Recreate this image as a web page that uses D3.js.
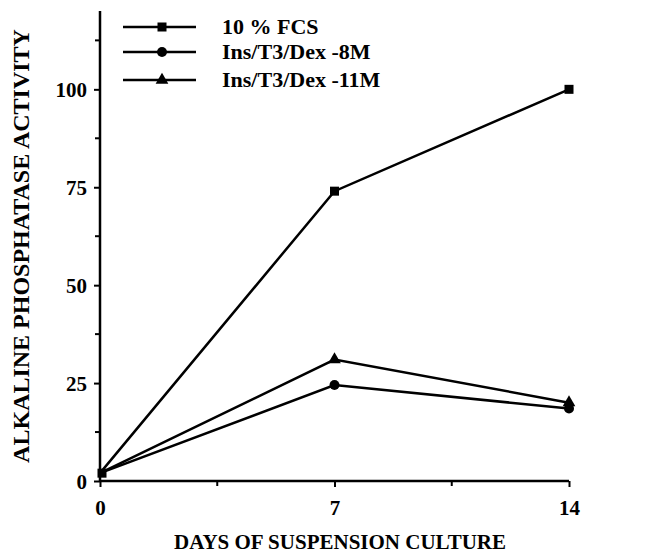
<!DOCTYPE html>
<html><head><meta charset="utf-8">
<script src="https://cdn.jsdelivr.net/npm/d3@7"></script>
<style>body{margin:0;background:#fff}svg{display:block}text{font-family:"Liberation Serif","Times New Roman",serif;font-weight:bold;fill:#000}</style>
</head><body><svg id="c" width="649" height="554"></svg>
<script>
const days = [0, 7, 14];
const fcs = [2, 74, 100];
const ins8 = [2, 24.5, 18.5];
const ins11 = [2, 31, 20];
const seriesNames = ["10 % FCS", "Ins/T3/Dex -8M", "Ins/T3/Dex -11M"];
const seriesShapes = ["square", "circle", "triangle"];
const yTicks = [0, 25, 50, 75, 100];
const yMinor = [12.5, 37.5, 62.5, 87.5, 112.5];
const xTicks = [0, 7, 14];
const xMinor = [3.5, 10.5];

const svg = d3.select("#c");
const x = d3.scaleLinear().domain([0, 14]).range([100, 569]);
const y = d3.scaleLinear().domain([0, 120]).range([481, 11]);

const g = svg.append("g");
g.append("line").attr("x1", x(0)).attr("x2", x(0)).attr("y1", y(120)).attr("y2", y(0)).attr("stroke","#000").attr("stroke-width",2.5);
g.append("line").attr("x1", x(0)).attr("x2", x(14)).attr("y1", y(0)).attr("y2", y(0)).attr("stroke","#000").attr("stroke-width",2.5);

const yAxis = d3.axisLeft(y).tickValues(yTicks).tickSize(6).tickFormat(d3.format("d"));
const ya = g.append("g").attr("transform", `translate(${x(0)},0)`).call(yAxis);
ya.select(".domain").remove();
ya.selectAll("line").attr("stroke-width", 2);
ya.selectAll("text").attr("font-size", 21).attr("dx", -4).attr("dy", "0.35em");
g.selectAll(".ymin").data(yMinor).enter().append("line").attr("x1", x(0)-5).attr("x2", x(0)).attr("y1", d=>y(d)).attr("y2", d=>y(d)).attr("stroke","#000").attr("stroke-width",2);

const xAxis = d3.axisBottom(x).tickValues(xTicks).tickSize(6).tickFormat(d3.format("d"));
const xa = g.append("g").attr("transform", `translate(0,${y(0)})`).call(xAxis);
xa.select(".domain").remove();
xa.selectAll("line").attr("stroke-width", 2);
xa.selectAll("text").attr("font-size", 21).attr("y", 34).attr("dy", 0);
g.selectAll(".xmin").data(xMinor).enter().append("line").attr("x1", d=>x(d)).attr("x2", d=>x(d)).attr("y1", y(0)).attr("y2", y(0)+5).attr("stroke","#000").attr("stroke-width",2);

svg.append("text").attr("transform", "translate(29,246) rotate(-90)").attr("text-anchor","middle").attr("font-size", 24).text("ALKALINE PHOSPHATASE ACTIVITY");
svg.append("text").attr("x", 340).attr("y", 549).attr("text-anchor","middle").attr("font-size", 21).text("DAYS OF SUSPENSION CULTURE");

const allSeries = [fcs, ins8, ins11];
const line = d3.line().x((d,i)=>x(days[i])).y(d=>y(d));
function marker(sel, shape, cx, cy) {
  if (shape === "square") sel.append("rect").attr("x", cx-4.5).attr("y", cy-4.5).attr("width", 9).attr("height", 9).attr("fill","#000");
  else if (shape === "circle") sel.append("circle").attr("cx", cx).attr("cy", cy).attr("r", 5).attr("fill","#000");
  else sel.append("path").attr("d", d3.symbol(d3.symbolTriangle, 70)()).attr("transform", `translate(${cx},${cy})`).attr("fill","#000");
}
allSeries.forEach((s, k) => {
  g.append("path").attr("d", line(s)).attr("fill","none").attr("stroke","#000").attr("stroke-width",2.5);
  s.forEach((v,i) => { if (i>0) marker(g, seriesShapes[k], x(days[i]), y(v)); });
});
marker(g, "square", x(0)+2, y(2));

const lg = svg.append("g");
seriesNames.forEach((n, k) => {
  const ly = [27, 52, 80][k];
  lg.append("line").attr("x1", 123).attr("x2", 196).attr("y1", ly).attr("y2", ly).attr("stroke","#000").attr("stroke-width",2.5);
  marker(lg, seriesShapes[k], 162, ly);
  lg.append("text").attr("x", 222).attr("y", ly + 7).attr("font-size", 22).text(n);
});
</script></body></html>
